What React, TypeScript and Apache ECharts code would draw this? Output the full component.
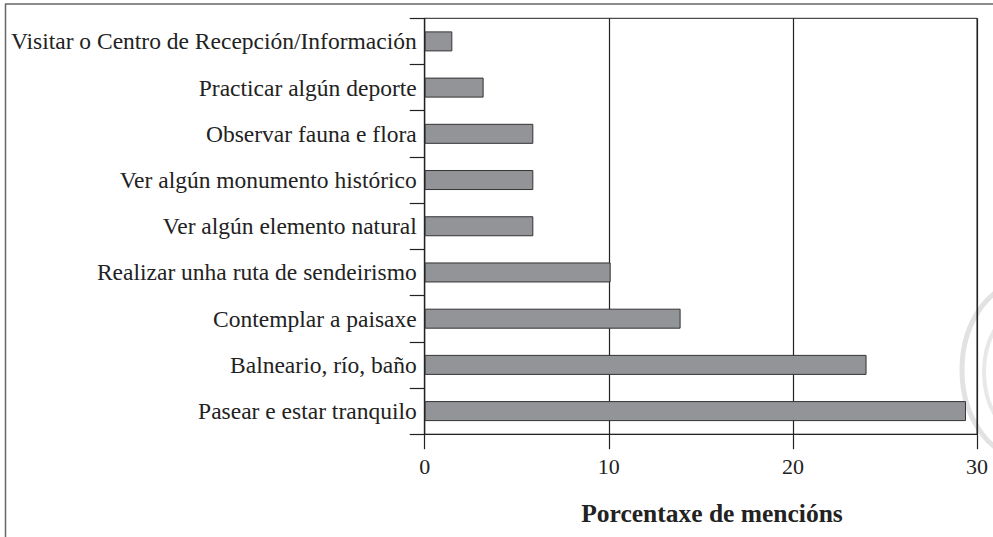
import React, { useEffect, useRef } from "react";
import * as echarts from "echarts";

const categories = [
  "Visitar o Centro de Recepción/Información",
  "Practicar algún deporte",
  "Observar fauna e flora",
  "Ver algún monumento histórico",
  "Ver algún elemento natural",
  "Realizar unha ruta de sendeirismo",
  "Contemplar a paisaxe",
  "Balneario, río, baño",
  "Pasear e estar tranquilo",
];
const values = [1.5, 3.2, 5.9, 5.9, 5.9, 10.1, 13.9, 24.0, 29.4];
const axisTitle = "Porcentaxe de mencións";

const FONT = "'Liberation Serif', serif";

export default function App() {
  const ref = useRef<HTMLDivElement>(null);
  useEffect(() => {
    document.body.style.margin = "0";
    const chart = echarts.init(ref.current!, null, { renderer: "svg" });
    chart.setOption({
      animation: false,
      backgroundColor: "#ffffff",
      grid: {
        left: 424.7,
        top: 18.3,
        width: 552.3,
        height: 415.9,
        show: true,
        borderColor: "#222",
        borderWidth: 1,
        containLabel: false,
      },
      xAxis: {
        type: "value",
        min: 0,
        max: 30,
        interval: 10,
        axisLine: { show: true, lineStyle: { color: "#222", width: 1 } },
        axisTick: { show: true, length: 15, lineStyle: { color: "#222", width: 1.2 } },
        axisLabel: { color: "#222", fontFamily: FONT, fontSize: 22, margin: 21 },
        splitLine: { show: true, lineStyle: { color: "#222", width: 1.2 } },
      },
      yAxis: {
        type: "category",
        data: categories,
        inverse: true,
        axisLine: { show: true, lineStyle: { color: "#222", width: 1.2 } },
        axisTick: { show: true, length: 15, lineStyle: { color: "#222", width: 1.2 } },
        axisLabel: { color: "#222", fontFamily: FONT, fontSize: 23.5, margin: 8 },
        splitLine: { show: false },
      },
      series: [
        {
          type: "bar",
          data: values,
          barWidth: 20,
          itemStyle: { color: "#939498", borderColor: "#333", borderWidth: 1 },
        },
      ],
      graphic: [
        {
          type: "line",
          shape: { x1: 5, y1: 4, x2: 993, y2: 4 },
          style: { stroke: "#666", lineWidth: 1.5 },
        },
        {
          type: "line",
          shape: { x1: 5.5, y1: 4, x2: 5.5, y2: 537 },
          style: { stroke: "#666", lineWidth: 1.5 },
        },
        {
          type: "text",
          x: 712,
          y: 513,
          style: {
            text: axisTitle,
            fill: "#222",
            font: "bold 25.5px 'Liberation Serif', serif",
            textAlign: "center",
            textVerticalAlign: "middle",
          },
        },
        {
          type: "ellipse",
          shape: { cx: 1030, cy: 370, rx: 68, ry: 90 },
          style: { fill: "none", stroke: "#e2e2e2", lineWidth: 5 },
          z: -1,
        },
        {
          type: "ellipse",
          shape: { cx: 1030, cy: 372, rx: 46, ry: 66 },
          style: { fill: "none", stroke: "#e8e8e8", lineWidth: 4 },
          z: -1,
        },
      ],
    });
    return () => chart.dispose();
  }, []);
  return (
    <div
      ref={ref}
      style={{ position: "fixed", left: 0, top: 0, width: 993, height: 537 }}
    />
  );
}
